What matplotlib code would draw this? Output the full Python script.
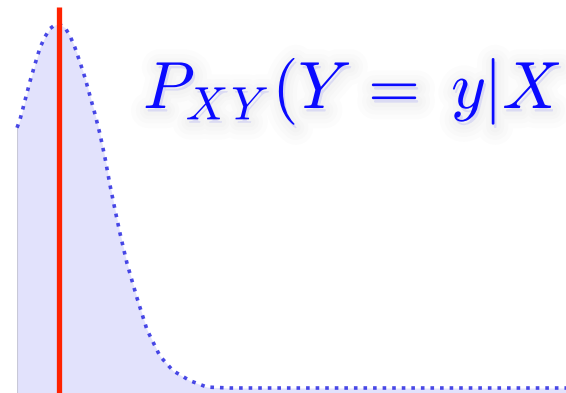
import matplotlib
matplotlib.use("Agg")
import matplotlib.pyplot as plt
import matplotlib.patheffects as pe

plt.rcParams['mathtext.fontset'] = 'cm'

# density of Y given X, read at a handful of points
y_vals = [-0.84, -0.78, -0.68, -0.58, -0.48, -0.38, -0.28, -0.18, -0.08, 0.0,
          0.12, 0.22, 0.32, 0.42, 0.52, 0.62, 0.72, 0.82, 0.92, 1.02,
          1.12, 1.22, 1.36, 1.56, 1.76, 2.02, 2.28, 2.62, 2.96, 3.42, 10.14]
density = [0.286, 0.295, 0.316, 0.337, 0.356, 0.374, 0.386, 0.395, 0.399, 0.400,
           0.396, 0.387, 0.374, 0.358, 0.341, 0.321, 0.301, 0.279, 0.253, 0.223,
           0.196, 0.170, 0.137, 0.099, 0.064, 0.035, 0.019, 0.008, 0.001, 0.0, 0.0]
observed_y = 0.0
label = r'$P_{X\,Y}\,(Y\ =\ y|X$'

bottom = -0.0055
top = 0.4264

fig = plt.figure(figsize=(5.66, 3.93), dpi=100)
ax = fig.add_axes([17 / 566, 0, 549 / 566, 1])
ax.set_xlim(y_vals[0], y_vals[-1])
ax.set_ylim(bottom, top)
ax.axis('off')

ax.fill_between(y_vals, density, bottom, color='#e2e2fc', lw=0)
ax.plot([y_vals[0], y_vals[0]], [bottom, density[0]], color='#b8b8c8', lw=1.5, alpha=0.7)
ax.plot(y_vals, density, color='#1c1ce0', lw=2.6, ls=':', alpha=0.8, clip_on=False)
ax.vlines(observed_y, bottom, 0.4187, color='#ff2200', lw=3.8)

shadow = [pe.Stroke(linewidth=w, foreground='#808080', alpha=0.025, offset=(1.5, -2.5))
          for w in (24, 17, 11, 6)]
fig.text(143 / 566, 1 - 108 / 393, label, fontsize=48, color='#0a0aff',
         va='baseline', ha='left',
         path_effects=shadow + [pe.Normal()])

fig.savefig('out.png', dpi=100)
